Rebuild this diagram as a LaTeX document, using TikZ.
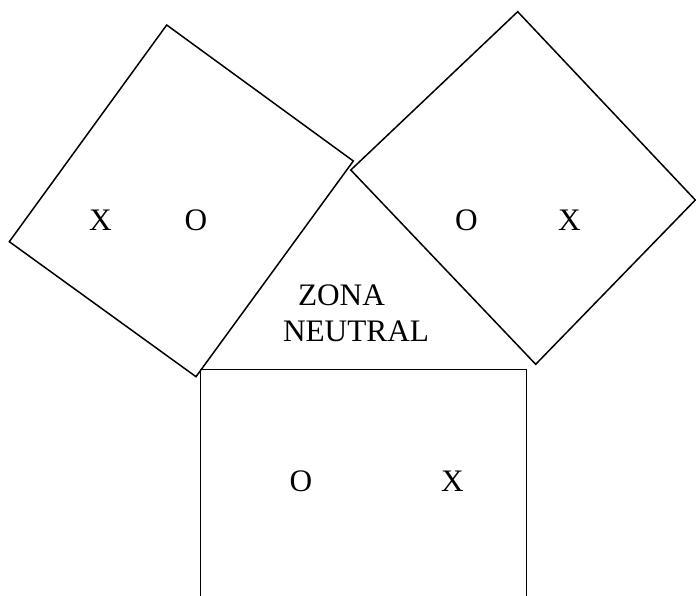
\documentclass[tikz,border=0pt]{standalone}
\usepackage{fontspec}
\setmainfont{Liberation Serif}
\begin{document}
\begin{tikzpicture}[x=1pt,y=-1pt,
  edge/.style={draw=black,line width=1.5pt,line join=miter},
  lbl/.style={anchor=base west,inner sep=0pt,outer sep=0pt,font=\fontsize{31.3}{36}\selectfont}]
\useasboundingbox (0,0) rectangle (696,596);
% left rectangle
\coordinate (LT) at (166.7,25);
\coordinate (LR) at (353.3,161);
\coordinate (LB) at (196,376.7);
\coordinate (LL) at (9.3,241.7);
\draw[edge] (LT) -- (LR) -- (LB) -- (LL) -- cycle;
% right rectangle
\coordinate (RL) at (350.8,170);
\coordinate (RT) at (517.7,11.7);
\coordinate (RR) at (695.3,200);
\coordinate (RB) at (535.7,364.3);
\draw[edge] (RL) -- (RT) -- (RR) -- (RB) -- cycle;
% bottom square (cut by the page edge)
\coordinate (BL) at (200.3,369.3);
\coordinate (BR) at (526.7,369.3);
\coordinate (BLd) at (200.3,597);
\coordinate (BRd) at (526.7,597);
\draw[edge] (BLd) -- (BL) -- (BR) -- (BRd);
% labels
\node[lbl] (l1) at (89,230) {X};
\node[lbl] (l2) at (184.5,230) {O};
\node[lbl] (r1) at (455,230) {O};
\node[lbl] (r2) at (558,230) {X};
\node[lbl] (z1) at (298,305) {ZONA};
\node[lbl] (z2) at (283,341.7) {NEUTRAL};
\node[lbl] (b1) at (289.5,491.7) {O};
\node[lbl] (b2) at (441,491.7) {X};
\end{tikzpicture}
\end{document}
